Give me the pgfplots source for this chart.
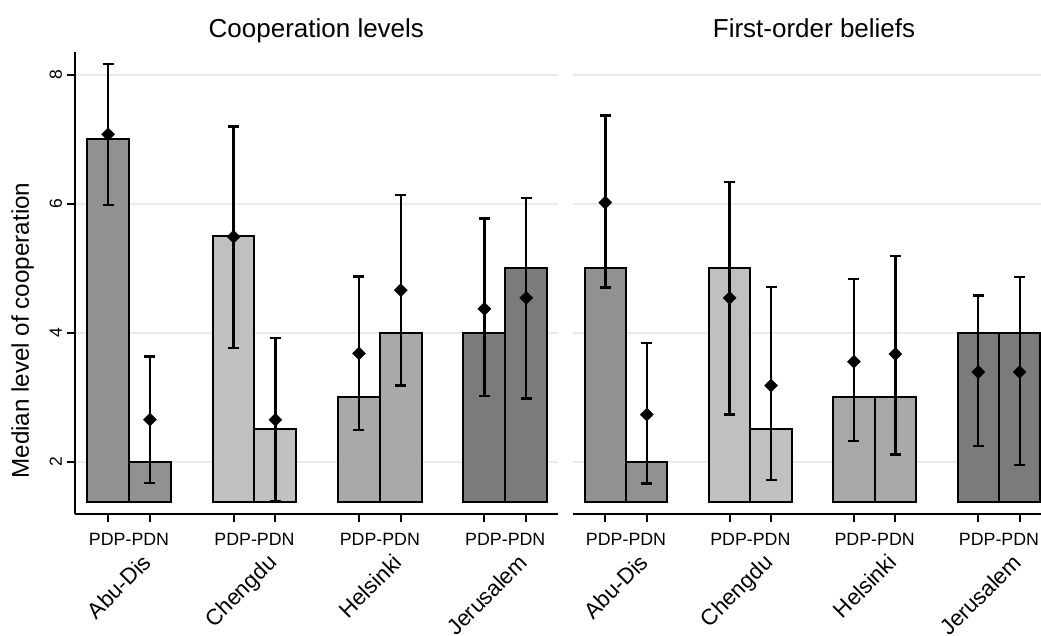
\documentclass[border=0pt]{standalone}
\usepackage{pgfplots}
\pgfplotsset{compat=1.18}
\usepackage{pgfplotstable}
\usepackage{fontspec}
\setmainfont{Liberation Sans}
\definecolor{cAbu}{HTML}{919191}
\definecolor{cChe}{HTML}{C0C0C0}
\definecolor{cHel}{HTML}{A9A9A9}
\definecolor{cJer}{HTML}{7B7B7B}
\definecolor{gridc}{HTML}{EBEBEB}
\newcommand{\base}{1.38}

% Cooperation levels: median (bar), mean (diamond), CI lo/hi
\pgfplotstableread{
x      med  mean  lo    hi
0.8333 7    7.08  5.98  8.17
1.1667 2    2.65  1.67  3.63
1.8333 5.5  5.49  3.76  7.20
2.1667 2.5  2.65  1.38  3.92
2.8333 3    3.68  2.49  4.87
3.1667 4    4.66  3.18  6.14
3.8333 4    4.37  3.02  5.77
4.1667 5    4.54  2.98  6.09
}\coop

% First-order beliefs
\pgfplotstableread{
x      med  mean  lo    hi
0.8333 5    6.02  4.70  7.37
1.1667 2    2.73  1.66  3.84
1.8333 5    4.54  2.73  6.34
2.1667 2.5  3.18  1.71  4.71
2.8333 3    3.55  2.32  4.83
3.1667 3    3.67  2.11  5.19
3.8333 4    3.39  2.24  4.58
4.1667 4    3.39  1.95  4.86
}\beliefs

\tikzset{city/.style={rotate=45, anchor=north east, inner sep=0pt, font=\fontsize{22.3}{26}\selectfont}}

\pgfplotsset{
  panel/.style={
    scale only axis, width=482.7pt, height=462pt, anchor=south west,
    ymin=-0.194, ymax=6.977,
    ytick={0.62,2.62,4.62,6.62}, yticklabels={2,4,6,8},
    xtick={0.8333,1.1667,1.8333,2.1667,2.8333,3.1667,3.8333,4.1667},
    xticklabels={},
    extra x ticks={1,2,3,4},
    extra x tick labels={PDP-PDN,PDP-PDN,PDP-PDN,PDP-PDN},
    extra x tick style={major tick length=0pt, tick style={draw=none}},
    axis lines*=left, axis line style={line width=2.5pt, black},
    tick align=outside, major tick length=8pt,
    tick style={black, line width=2pt},
    ymajorgrids, grid style={gridc, line width=2pt},
    clip=false,
    title style={font=\fontsize{26}{30}\selectfont, at={(0.5,1)}, anchor=base, yshift=8pt, inner sep=0pt},
    xticklabel style={font=\fontsize{17.8}{20}\selectfont, anchor=base, inner sep=0pt, yshift=-31pt},
    yticklabel shift=5pt,
    yticklabel style={font=\fontsize{17.5}{20}\selectfont, rotate=90, anchor=base, inner sep=0pt},
  },
  bars/.style={ybar, bar width=0.3333, bar shift=0, draw=black, line width=2pt, fill=#1},
  means/.style={only marks, mark=square*, mark size=4.6pt,
    mark options={rotate=45, fill=black, draw=black, line width=0.4pt},
    error bars/.cd, y dir=both, y explicit,
    error bar style={line width=2.4pt, black},
    error mark options={rotate=90, line width=2.4pt, mark size=5.5pt, black}},
}

\begin{document}
\begin{tikzpicture}
\useasboundingbox (0,0) rectangle (1041pt,635pt);
\clip (0,0) rectangle (1041pt,635pt);

\begin{axis}[panel, at={(75pt,121pt)}, xmin=0.569, xmax=4.418,
  title={Cooperation levels},
  ylabel={Median level of cooperation},
  ylabel style={font=\fontsize{24.2}{28}\selectfont, at={(axis description cs:-0.0953,0.397)}, anchor=base, inner sep=0pt}]
  \addplot[bars=cAbu, restrict x to domain=0.5:1.5] table[x=x, y expr=\thisrow{med}-\base] {\coop};
  \addplot[bars=cChe, restrict x to domain=1.5:2.5] table[x=x, y expr=\thisrow{med}-\base] {\coop};
  \addplot[bars=cHel, restrict x to domain=2.5:3.5] table[x=x, y expr=\thisrow{med}-\base] {\coop};
  \addplot[bars=cJer, restrict x to domain=3.5:4.5] table[x=x, y expr=\thisrow{med}-\base] {\coop};
  \addplot[means] table[x=x, y expr=\thisrow{mean}-\base,
     y error plus expr=\thisrow{hi}-\thisrow{mean},
     y error minus expr=\thisrow{mean}-\thisrow{lo}] {\coop};
  \node[city] at (axis cs:1.097,-0.79) {Abu-Dis};
  \node[city] at (axis cs:2.097,-0.79) {Chengdu};
  \node[city] at (axis cs:3.097,-0.79) {Helsinki};
  \node[city] at (axis cs:4.097,-0.79) {Jerusalem};
\end{axis}

\begin{axis}[panel, at={(572.7pt,121pt)}, xmin=0.571, xmax=4.454,
  title={First-order beliefs},
  y axis line style={draw=none}, ytick style={draw=none}, yticklabels={}]
  \addplot[bars=cAbu, restrict x to domain=0.5:1.5] table[x=x, y expr=\thisrow{med}-\base] {\beliefs};
  \addplot[bars=cChe, restrict x to domain=1.5:2.5] table[x=x, y expr=\thisrow{med}-\base] {\beliefs};
  \addplot[bars=cHel, restrict x to domain=2.5:3.5] table[x=x, y expr=\thisrow{med}-\base] {\beliefs};
  \addplot[bars=cJer, restrict x to domain=3.5:4.5] table[x=x, y expr=\thisrow{med}-\base] {\beliefs};
  \addplot[means] table[x=x, y expr=\thisrow{mean}-\base,
     y error plus expr=\thisrow{hi}-\thisrow{mean},
     y error minus expr=\thisrow{mean}-\thisrow{lo}] {\beliefs};
  \node[city] at (axis cs:1.097,-0.79) {Abu-Dis};
  \node[city] at (axis cs:2.097,-0.79) {Chengdu};
  \node[city] at (axis cs:3.097,-0.79) {Helsinki};
  \node[city] at (axis cs:4.097,-0.79) {Jerusalem};
\end{axis}
\end{tikzpicture}
\end{document}
